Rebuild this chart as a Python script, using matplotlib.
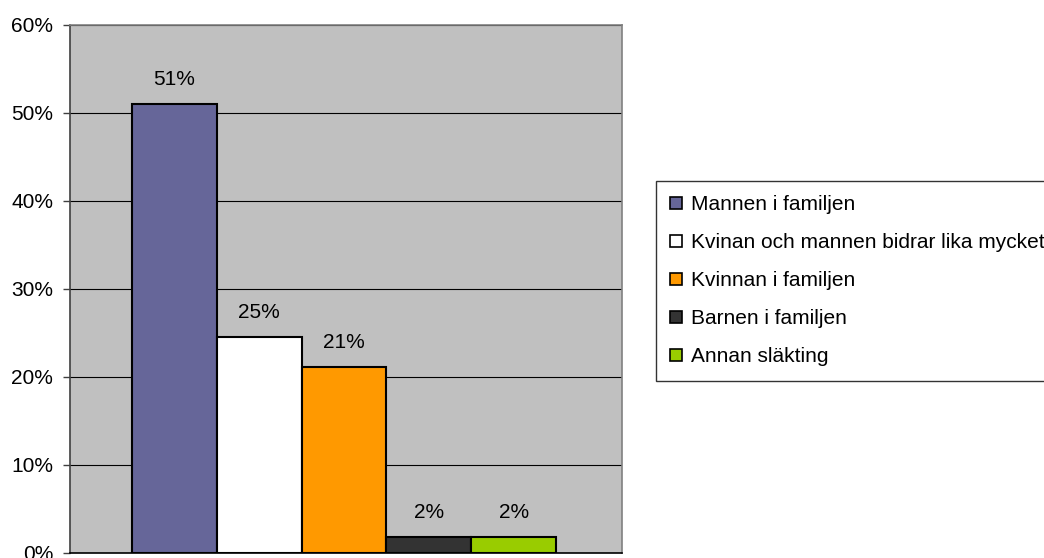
import numpy as np
import matplotlib
matplotlib.use("Agg")
import matplotlib.pyplot as plt
from matplotlib.patches import Patch

# data
categories = ["Mannen i familjen", "Kvinan och mannen bidrar lika mycket",
              "Kvinnan i familjen", "Barnen i familjen", "Annan släkting"]
values = [51.0, 24.5, 21.1, 1.8, 1.8]
value_labels = ["51%", "25%", "21%", "2%", "2%"]
colors = ["#666699", "#FFFFFF", "#FF9900", "#333333", "#99CC00"]
yticks = [0, 10, 20, 30, 40, 50, 60]

plt.rcParams['font.family'] = ['Liberation Sans', 'DejaVu Sans']

fig = plt.figure(figsize=(10.44, 5.58), dpi=100)
ax = fig.add_axes([70/1044, 1-553/558, (622-70)/1044, (553-25)/558])
ax.set_facecolor("#C0C0C0")

x = np.arange(len(values))
ax.bar(x, values, width=1.0, color=colors, edgecolor="black", linewidth=1.5, zorder=3)
for xi, v, lab in zip(x, values, value_labels):
    ax.annotate(lab, (xi, v), xytext=(0, 18), textcoords="offset points",
                ha="center", va="center", fontsize=15)

ax.set_xlim(-1.231, 5.278)
ax.set_ylim(0, 60)
ax.set_yticks(yticks)
ax.set_yticklabels([f"{t}%" for t in yticks], fontsize=15)
ax.set_xticks([])
ax.yaxis.grid(True, color="black", linewidth=0.8, zorder=0)
ax.set_axisbelow(True)
ax.tick_params(axis="y", direction="out", length=5, width=1, color="#404040", pad=7)
for s in ["top", "right"]:
    ax.spines[s].set_color("#808080")
ax.spines["left"].set_color("#404040")
ax.spines["bottom"].set_color("black")
for s in ax.spines.values():
    s.set_linewidth(1.2)

handles = [Patch(facecolor=c, edgecolor="black", linewidth=1.2) for c in colors]
leg = fig.legend(handles, categories, loc="upper left",
                 bbox_to_anchor=(656/1044, 1-181/558), borderaxespad=0,
                 fontsize=15, frameon=True, fancybox=False, shadow=False,
                 handlelength=0.55, handleheight=0.55, handletextpad=0.45,
                 labelspacing=0.91, borderpad=0.69)
leg.get_frame().set_edgecolor("black")
leg.get_frame().set_linewidth(1.0)

fig.savefig("out.png", dpi=100)
